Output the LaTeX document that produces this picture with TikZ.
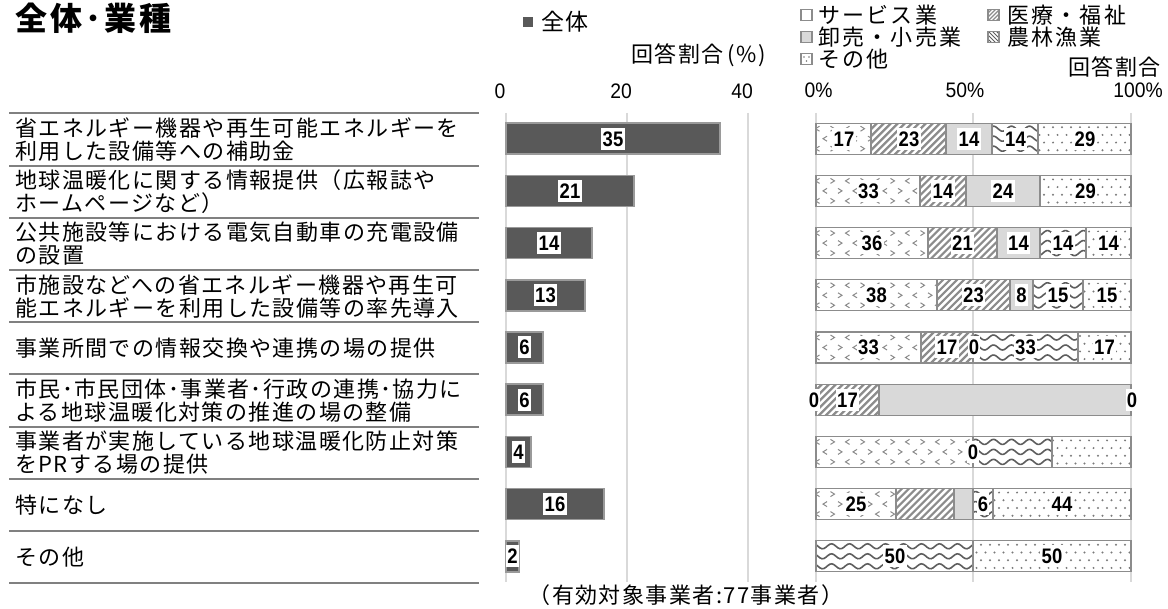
\documentclass[tikz,border=0pt]{standalone}
\usepackage{fontspec}
\setmainfont{Noto Sans CJK JP}
\newfontfamily\jp{Noto Sans CJK JP}[LetterSpace=6.5]
\newfontfamily\jpleg{Noto Sans CJK JP}[LetterSpace=10]
\newfontfamily\jpt{Noto Sans CJK JP}[LetterSpace=10]
\newfontfamily\numf{Liberation Sans}[FakeStretch=0.88]
\newfontfamily\tickf{Liberation Sans}[FakeStretch=0.92]
\definecolor{bardark}{HTML}{595959}
\definecolor{barline}{HTML}{9A9A9A}
\definecolor{gridc}{HTML}{D9D9D9}
\definecolor{sepc}{HTML}{808080}
\definecolor{segc}{HTML}{8C8C8C}
\definecolor{hatchc}{HTML}{8C8C8C}
\definecolor{wavec}{HTML}{5E5E5E}
\definecolor{wsale}{HTML}{D9D9D9}
\definecolor{svcc}{HTML}{8A8A8A}
\definecolor{dotc}{HTML}{7A7A7A}
\tikzset{
  gridln/.style={draw=gridc, line width=2pt},
  sepln/.style={draw=sepc, line width=2pt},
  barbox/.style={fill=bardark, draw=barline, line width=1.5pt},
  segb/.style={draw=segc, line width=1.3pt},
  hatchl/.style={draw=hatchc, line width=2.2pt},
  wavel/.style={draw=wavec, line width=1.6pt},
  svcl/.style={draw=svcc, line width=1pt},
  vl/.style={fill=white, inner xsep=1.3pt, inner ysep=0pt, text height=15pt, text depth=0pt, minimum height=22pt, font=\numf\bfseries\fontsize{21}{21}\selectfont},
  rowlab/.style={anchor=west, inner sep=0pt, align=left, font=\jp\fontsize{22}{23}\selectfont},
  ticklab/.style={inner sep=0pt, font=\tickf\fontsize{21}{21}\selectfont},
  legt/.style={anchor=west, inner sep=0pt, font=\jpleg\fontsize{22}{22}\selectfont},
}
\newcommand\rowy[1]{\pgfmathsetmacro\yc{138.7+52.2*(#1-1)}\pgfmathsetmacro\yt{\yc-15.5}\pgfmathsetmacro\yb{\yc+15.5}}
\newcommand\segW[3]{\rowy{#3}\draw[segb, fill=wsale] (#1,\yt) rectangle (#2,\yb);}
\newcommand\segM[3]{\rowy{#3}%
  \begin{scope}
    \clip (#1,\yt) rectangle (#2,\yb);
    \fill[white] (#1,\yt) rectangle (#2,\yb);
    \pgfmathsetmacro\sa{#1-33}\pgfmathsetmacro\sb{\sa+7}
    \foreach \xx in {\sa,\sb,...,#2} \draw[hatchl] (\xx,\yb+1) -- ++(33,-33);
  \end{scope}
  \draw[segb] (#1,\yt) rectangle (#2,\yb);}
\newcommand\segA[3]{\rowy{#3}%
  \begin{scope}
    \clip (#1,\yt) rectangle (#2,\yb);
    \fill[white] (#1,\yt) rectangle (#2,\yb);
    \foreach \dy in {-10,0,10} \draw[wavel] plot[domain=#1:#2, samples=80, smooth] (\x,{\yc+\dy+2.5*sin(20*(\x-800))});
  \end{scope}
  \draw[segb] (#1,\yt) rectangle (#2,\yb);}
\newcommand\segO[3]{\rowy{#3}%
  \begin{scope}
    \clip (#1,\yt) rectangle (#2,\yb);
    \fill[white] (#1,\yt) rectangle (#2,\yb);
    \pgfmathsetmacro\sa{9*floor(#1/9)-9}\pgfmathsetmacro\sb{\sa+9}
    \foreach \r/\off in {0/0,1/4.5,2/0,3/4.5} {
      \foreach \xx in {\sa,\sb,...,#2} \fill[dotc] ({\xx+\off},{\yt+4+7.7*\r}) circle[radius=1.1];
    }
  \end{scope}
  \draw[segb] (#1,\yt) rectangle (#2,\yb);}
\newcommand\segS[3]{\rowy{#3}%
  \begin{scope}
    \clip (#1,\yt) rectangle (#2,\yb);
    \fill[white] (#1,\yt) rectangle (#2,\yb);
    \pgfmathsetmacro\sa{15*floor(#1/15)-15}\pgfmathsetmacro\sb{\sa+15}
    \foreach \r/\off in {-1/7.5,0/0,1/7.5} {
      \foreach \xx [count=\j] in {\sa,\sb,...,#2} {
        \pgfmathsetmacro\dd{2-4*mod(\j+\r+1,2)}
        \draw[svcl] ({\xx+\off+\dd},{\yc+10*\r-2.5}) -- ({\xx+\off-\dd},{\yc+10*\r}) -- ({\xx+\off+\dd},{\yc+10*\r+2.5});
      }
    }
  \end{scope}
  \draw[segb] (#1,\yt) rectangle (#2,\yb);}
\newcommand\rlab[4]{\pgfmathsetmacro\yc{138.7+52.2*(#2-1)}\node[vl] (#4) at (#1,\yc) {#3};}
\begin{document}
\begin{tikzpicture}[x=1pt,y=-1pt]
\fill[white] (0,0) rectangle (1168,609);
\useasboundingbox (0,0) rectangle (1168,609);

% title
\node[anchor=west, inner sep=0pt, font=\jpt\bfseries\fontsize{32}{32}\selectfont] (title) at (15,18) {全体･業種};

% legend left
\fill[bardark] (523,17) rectangle (533,27);
\node[anchor=west, inner sep=0pt, font=\jp\fontsize{23}{23}\selectfont] (legall) at (541,22) {全体};
\node[anchor=west, inner sep=0pt, font=\jp\fontsize{22}{22}\selectfont] (unitl) at (631,55) {回答割合\kern4pt(\%)};

% legend right
\draw[segb, fill=white] (801,9.5) rectangle (812,20.5);
\node[legt] (lgs) at (818,15) {サービス業};
\begin{scope}
  \clip (988,9.5) rectangle (999,20.5);
  \foreach \xx in {976,980,...,1000} \draw[hatchc, line width=1.3pt] (\xx,21) -- ++(12,-12);
\end{scope}
\draw[segb] (988,9.5) rectangle (999,20.5);
\node[legt] (lgm) at (1007,15) {医療・福祉};
\draw[segb, fill=wsale] (801,31.5) rectangle (812,42.5);
\node[legt] (lgw) at (818,37) {卸売・小売業};
\begin{scope}
  \clip (988,31.5) rectangle (999,42.5);
  \fill[white] (988,31.5) rectangle (999,42.5);
  \foreach \xx in {976,980,...,1000} \draw[wavec, line width=1pt] (\xx,31) -- ++(12,12);
\end{scope}
\draw[segb] (988,31.5) rectangle (999,42.5);
\node[legt] (lga) at (1007,37) {農林漁業};
\draw[segb, fill=white] (801,53.5) rectangle (812,64.5);
\fill[dotc] (804,57) circle[radius=0.8] (809,57) circle[radius=0.8] (806.5,61) circle[radius=0.8];
\node[legt] (lgo) at (818,59) {その他};
\node[anchor=east, inner sep=0pt, font=\jp\fontsize{22}{22}\selectfont] (unitr) at (1161,67) {回答割合};

% axis ticks
\node[ticklab] (t0) at (500,91) {0};
\node[ticklab] (t20) at (621,91) {20};
\node[ticklab] (t40) at (742,91) {40};
\node[ticklab] (p0) at (818.5,90.5) {0\%};
\node[ticklab] (p50) at (965,90.5) {50\%};
\node[ticklab] (p100) at (1138,90.5) {100\%};

% gridlines
\foreach \gx in {506,627,748,816,973,1131} \draw[gridln] (\gx,113) -- (\gx,582);

% separators
\foreach \k in {0,...,9} \draw[sepln] (9,{113.5+52.2*\k}) -- (479,{113.5+52.2*\k});

% row labels
\node[rowlab] (lab1) at (15,139.6) {省エネルギー機器や再生可能エネルギーを\\利用した設備等への補助金};
\node[rowlab] (lab2) at (15,191.8) {地球温暖化に関する情報提供（広報誌や\\ホームページなど）};
\node[rowlab] (lab3) at (15,244.0) {公共施設等における電気自動車の充電設備\\の設置};
\node[rowlab] (lab4) at (15,296.2) {市施設などへの省エネルギー機器や再生可\\能エネルギーを利用した設備等の率先導入};
\node[rowlab] (lab5) at (15,348.4) {事業所間での情報交換や連携の場の提供};
\node[rowlab] (lab6) at (15,400.6) {市民･市民団体･事業者･行政の連携･協力に\\よる地球温暖化対策の推進の場の整備};
\node[rowlab] (lab7) at (15,452.8) {事業者が実施している地球温暖化防止対策\\をPRする場の提供};
\node[rowlab] (lab8) at (15,505.0) {特になし};
\node[rowlab] (lab9) at (15,557.2) {その他};

% left bars
\foreach \i/\e/\v in {1/720/35,2/634/21,3/592/14,4/585/13,5/543/6,6/543/6,7/531/4,8/604/16,9/519/2} {
  \pgfmathsetmacro\yc{138.7+52.2*(\i-1)}
  \draw[barbox] (506,\yc-15.5) rectangle (\e,\yc+15.5);
  \node[vl] (bv\i) at ({(506+\e)/2},\yc) {\v};
}

% right stacked bars
\segS{816}{871}{1}\segM{871}{946}{1}\segW{946}{992}{1}\segA{992}{1038}{1}\segO{1038}{1131}{1}
\segS{816}{920}{2}\segM{920}{966}{2}\segW{966}{1040}{2}\segO{1040}{1131}{2}
\segS{816}{928}{3}\segM{928}{997}{3}\segW{997}{1040}{3}\segA{1040}{1086}{3}\segO{1086}{1131}{3}
\segS{816}{937}{4}\segM{937}{1010}{4}\segW{1010}{1033}{4}\segA{1033}{1083}{4}\segO{1083}{1131}{4}
\segS{816}{921}{5}\segM{921}{973}{5}\segA{973}{1078}{5}\segO{1078}{1131}{5}
\segM{816}{879}{6}\segW{879}{1131}{6}
\segS{816}{973}{7}\segA{973}{1052}{7}\segO{1052}{1131}{7}
\segS{816}{896}{8}\segM{896}{954}{8}\segW{954}{973}{8}\segA{973}{993}{8}\segO{993}{1131}{8}
\segA{816}{973}{9}\segO{973}{1131}{9}

% right labels
\rlab{844}{1}{17}{r1s}\rlab{909}{1}{23}{r1m}\rlab{969}{1}{14}{r1w}\rlab{1015.5}{1}{14}{r1a}\rlab{1085}{1}{29}{r1o}
\rlab{868.5}{2}{33}{r2s}\rlab{943}{2}{14}{r2m}\rlab{1003}{2}{24}{r2w}\rlab{1085.5}{2}{29}{r2o}
\rlab{872}{3}{36}{r3s}\rlab{962.5}{3}{21}{r3m}\rlab{1018.5}{3}{14}{r3w}\rlab{1063}{3}{14}{r3a}\rlab{1108.5}{3}{14}{r3o}
\rlab{876.5}{4}{38}{r4s}\rlab{973.5}{4}{23}{r4m}\rlab{1021.5}{4}{8}{r4w}\rlab{1058}{4}{15}{r4a}\rlab{1107}{4}{15}{r4o}
\rlab{868.5}{5}{33}{r5s}\rlab{947}{5}{17}{r5m}\rlab{974}{5}{0}{r5w}\rlab{1025.5}{5}{33}{r5a}\rlab{1104.5}{5}{17}{r5o}
\rlab{814}{6}{0}{r6s}\rlab{847.5}{6}{17}{r6m}\rlab{1132}{6}{0}{r6o}
\rlab{973}{7}{0}{r7m}
\rlab{856}{8}{25}{r8s}\rlab{983}{8}{6}{r8a}\rlab{1062}{8}{44}{r8o}
\rlab{895}{9}{50}{r9a}\rlab{1052}{9}{50}{r9o}

% caption
\node[inner sep=0pt, font=\jp\fontsize{22}{22}\selectfont] (cap) at (686,595) {（有効対象事業者:77事業者）};
\end{tikzpicture}
\end{document}
